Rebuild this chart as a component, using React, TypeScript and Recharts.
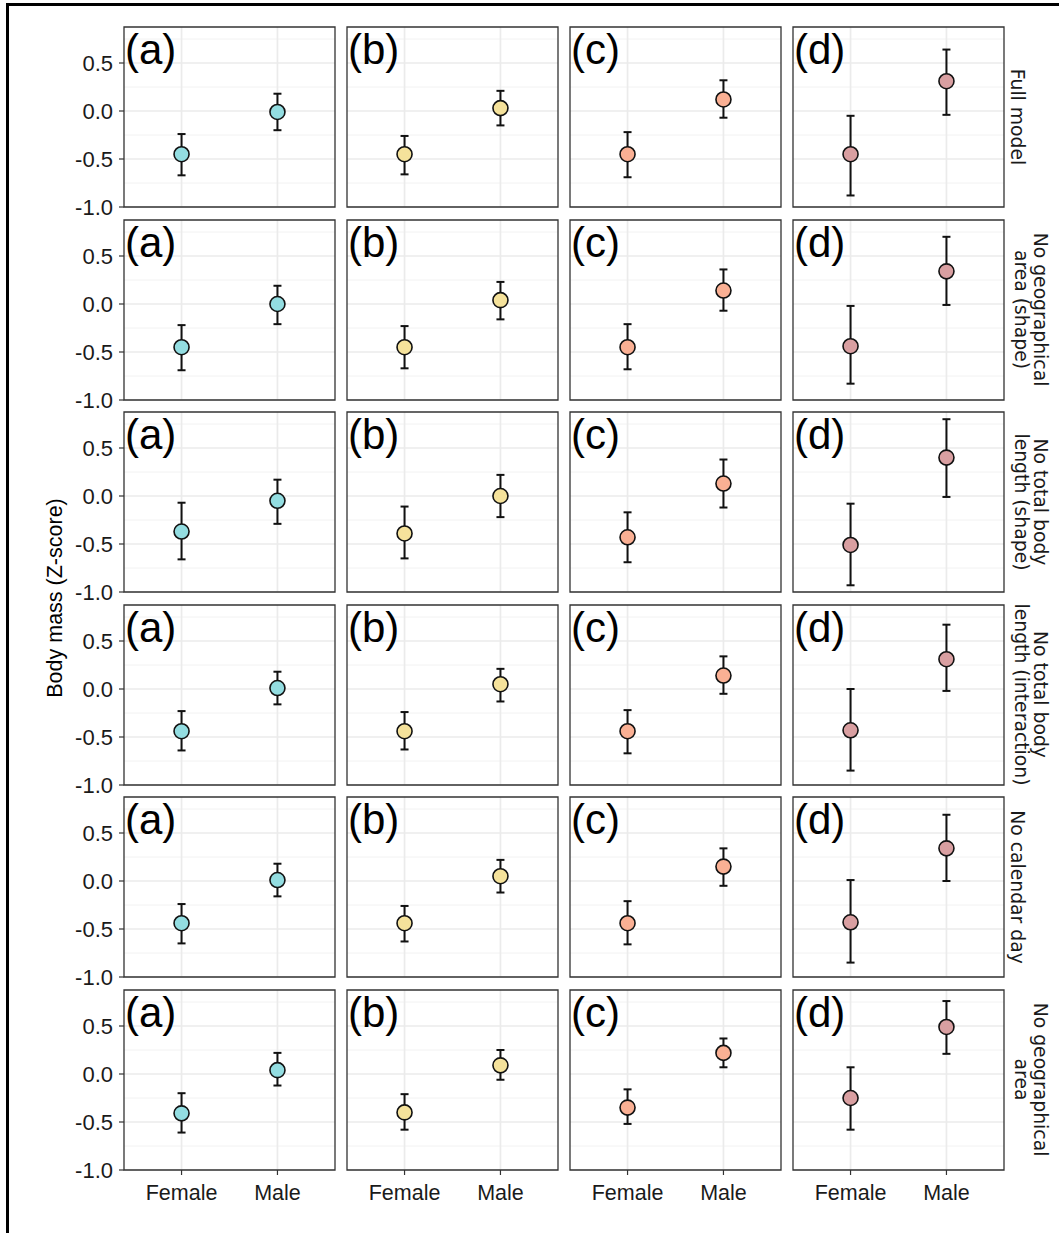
import React from 'react';
import { ScatterChart, Scatter, XAxis, YAxis, CartesianGrid, ErrorBar, ReferenceArea } from 'recharts';

// categories
const sexes = ['Female', 'Male'];
const panelTags = ['(a)', '(b)', '(c)', '(d)'];
const panelColors = ['#93DDE1', '#F5E29B', '#FAB094', '#D99FA1'];
const models = [
  ['Full model'],
  ['No geographical', 'area (shape)'],
  ['No total body', 'length (shape)'],
  ['No total body', 'length (interaction)'],
  ['No calendar day'],
  ['No geographical', 'area'],
];

// tick values
const majorTicks = [-1, -0.5, 0, 0.5];
const minorTicks = [-0.75, -0.25, 0.25, 0.75];

// estimates, one row per model, one column per panel (a-d)
const femaleMean = [
  [-0.45, -0.45, -0.45, -0.45],
  [-0.45, -0.45, -0.45, -0.44],
  [-0.37, -0.39, -0.43, -0.51],
  [-0.44, -0.44, -0.44, -0.43],
  [-0.44, -0.44, -0.44, -0.43],
  [-0.41, -0.40, -0.35, -0.25],
];
const femaleLow = [
  [-0.67, -0.66, -0.69, -0.88],
  [-0.69, -0.67, -0.68, -0.83],
  [-0.66, -0.65, -0.69, -0.93],
  [-0.64, -0.63, -0.67, -0.85],
  [-0.65, -0.63, -0.66, -0.85],
  [-0.61, -0.58, -0.52, -0.58],
];
const femaleHigh = [
  [-0.24, -0.26, -0.22, -0.05],
  [-0.22, -0.23, -0.21, -0.02],
  [-0.07, -0.11, -0.17, -0.08],
  [-0.23, -0.24, -0.22, 0.0],
  [-0.24, -0.26, -0.21, 0.01],
  [-0.20, -0.21, -0.16, 0.07],
];
const maleMean = [
  [-0.01, 0.03, 0.12, 0.31],
  [0.0, 0.04, 0.14, 0.34],
  [-0.05, 0.0, 0.13, 0.40],
  [0.01, 0.05, 0.14, 0.31],
  [0.01, 0.05, 0.15, 0.34],
  [0.04, 0.09, 0.22, 0.49],
];
const maleLow = [
  [-0.20, -0.15, -0.07, -0.04],
  [-0.21, -0.16, -0.07, -0.01],
  [-0.29, -0.22, -0.12, -0.01],
  [-0.16, -0.13, -0.05, -0.02],
  [-0.16, -0.12, -0.05, 0.0],
  [-0.12, -0.06, 0.07, 0.21],
];
const maleHigh = [
  [0.18, 0.21, 0.32, 0.64],
  [0.19, 0.23, 0.36, 0.70],
  [0.17, 0.22, 0.38, 0.80],
  [0.18, 0.21, 0.34, 0.67],
  [0.18, 0.22, 0.34, 0.69],
  [0.22, 0.25, 0.37, 0.76],
];

const colLeft = [124, 347, 570, 793];
const rowTop = [27, 219.5, 412, 604.5, 797, 989.5];
const PW = 211;
const PH = 180;
const YAXIS_W = 60;
const XAXIS_H = 42;
const M = 2;
const MB = 12; // room under each panel so the -1.0 label is not cut

const sansFont = '"Liberation Sans", Arial, sans-serif';
const stripFont = '"DejaVu Sans", sans-serif';

const buildPoints = (r: number, c: number) => [
  { x: 1, y: femaleMean[r][c], err: [femaleMean[r][c] - femaleLow[r][c], femaleHigh[r][c] - femaleMean[r][c]], sex: sexes[0] },
  { x: 2, y: maleMean[r][c], err: [maleMean[r][c] - maleLow[r][c], maleHigh[r][c] - maleMean[r][c]], sex: sexes[1] },
];

const Panel = ({ r, c }: { r: number; c: number }) => {
  const firstCol = c === 0;
  const lastRow = r === rowTop.length - 1;
  const width = PW + 2 * M + (firstCol ? YAXIS_W : 0);
  const height = PH + M + MB + (lastRow ? XAXIS_H : 0);
  const left = colLeft[c] - M - (firstCol ? YAXIS_W : 0);
  const top = rowTop[r] - M;
  const color = panelColors[c];
  const plotLeft = M + (firstCol ? YAXIS_W : 0);

  return (
    <div style={{ position: 'absolute', left, top }}>
      <ScatterChart
        width={width}
        height={height}
        margin={{ top: M, right: M, bottom: MB, left: M }}
        style={{ overflow: 'visible' }}
      >
        <CartesianGrid horizontalValues={minorTicks} vertical={false} stroke="#F2F2F2" strokeWidth={1} />
        <CartesianGrid horizontalValues={majorTicks} verticalValues={[1, 2]} stroke="#EBEBEB" strokeWidth={1.7} />
        <XAxis
          type="number"
          dataKey="x"
          domain={[0.4, 2.6]}
          ticks={[1, 2]}
          interval={0}
          allowDataOverflow
          hide={!lastRow}
          height={XAXIS_H}
          axisLine={false}
          tickSize={5}
          tickMargin={10}
          tickLine={{ stroke: '#333', strokeWidth: 1.2 }}
          tick={{ fill: '#1a1a1a', fontSize: 21.5, fontFamily: sansFont }}
          tickFormatter={(v: number) => sexes[v - 1]}
        />
        <YAxis
          type="number"
          dataKey="y"
          domain={[-1, 0.875]}
          ticks={majorTicks}
          interval={0}
          allowDataOverflow
          hide={!firstCol}
          width={YAXIS_W}
          axisLine={false}
          tickSize={5}
          tickMargin={6}
          tickLine={{ stroke: '#333', strokeWidth: 1.2 }}
          tick={{ fill: '#1a1a1a', fontSize: 22, fontFamily: sansFont }}
          tickFormatter={(v: number) => v.toFixed(1)}
        />
        <ReferenceArea x1={0.4} x2={2.6} y1={-1} y2={0.875} fill="none" stroke="#333" strokeWidth={1.3} ifOverflow="visible" />
        <Scatter
          data={buildPoints(r, c)}
          isAnimationActive={false}
          shape={(p: any) => <circle cx={p.cx} cy={p.cy} r={7.5} fill={color} stroke="#111" strokeWidth={1.6} />}
        >
          <ErrorBar dataKey="err" direction="y" width={4} stroke="#111" strokeWidth={2} />
        </Scatter>
        <text x={plotLeft + 1} y={M + 37} fontSize={42} fontFamily={sansFont} fill="#000">
          {panelTags[c]}
        </text>
      </ScatterChart>
    </div>
  );
};

const App: React.FC = () => {
  return (
    <div style={{ position: 'absolute', left: 0, top: 0, width: 1059, height: 1233, overflow: 'hidden', background: '#fff' }}>
      {/* frame line on top and left */}
      <div style={{ position: 'absolute', left: 6, top: 3, width: 1200, height: 1400, borderTop: '3.5px solid #000', borderLeft: '3.5px solid #000' }} />

      <svg width={1059} height={1233} style={{ position: 'absolute', left: 0, top: 0 }}>
        <text
          transform={`translate(62, 598) rotate(-90)`}
          textAnchor="middle"
          fontSize={21.5}
          fontFamily={sansFont}
          fill="#000"
        >
          Body mass (Z-score)
        </text>
        {models.map((lines, r) => {
          const cy = rowTop[r] + PH / 2;
          return lines.map((line, i) => {
            const bx = lines.length === 1 ? 1011 : i === 0 ? 1034 : 1015;
            return (
              <text
                key={`${r}-${i}`}
                transform={`translate(${bx}, ${cy}) rotate(90)`}
                textAnchor="middle"
                fontSize={18.8}
                fontFamily={stripFont}
                fill="#1a1a1a"
              >
                {line}
              </text>
            );
          });
        })}
      </svg>

      {rowTop.map((_, r) => colLeft.map((__, c) => <Panel key={`${r}-${c}`} r={r} c={c} />))}
    </div>
  );
};

export default App;
